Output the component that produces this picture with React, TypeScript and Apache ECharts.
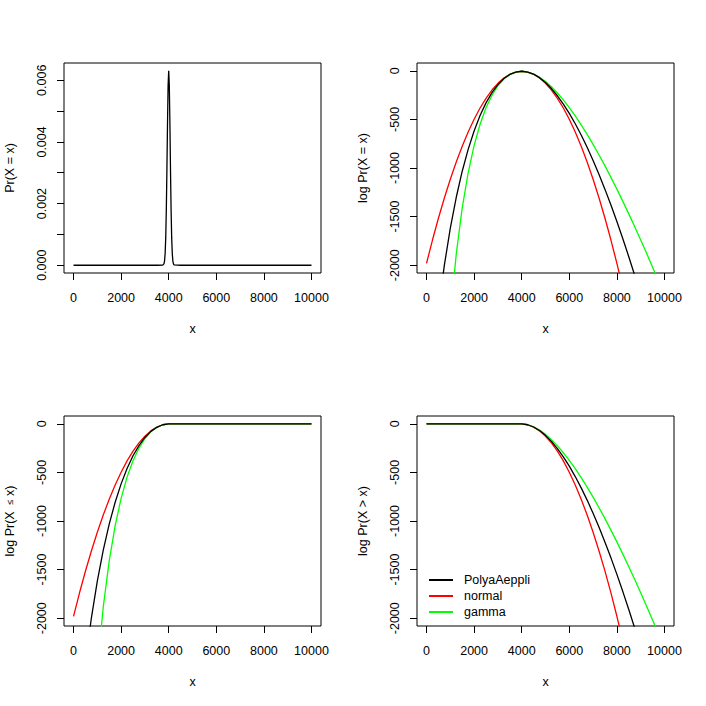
import React, { useEffect, useRef } from "react";
import * as echarts from "echarts";

// x grid for the log panels
const xs = [0, 250, 500, 750, 1000, 1250, 1500, 1750, 2000, 2250, 2500, 2750, 3000, 3250, 3500, 3750, 4000, 4250, 4500, 4750, 5000, 5250, 5500, 5750, 6000, 6250, 6500, 6750, 7000, 7250, 7500, 7750, 8000, 8250, 8500, 8750, 9000, 9250, 9500, 9750, 10000];

// Panel 1: Pr(X = x)
const xsPmf = [0, 1000, 2000, 3000, 3500, 3750, 3775, 3800, 3825, 3850, 3875, 3900, 3925, 3950, 3975, 4000, 4025, 4050, 4075, 4100, 4125, 4150, 4175, 4200, 4225, 4250, 4500, 5000, 6000, 7000, 8000, 9000, 10000];
const pmfPA = [0, 0, 0, 0, 0, 0.0000025, 0.0000113, 0.0000425, 0.000137, 0.000379, 0.000895, 0.001807, 0.003123, 0.004615, 0.005834, 0.006308, 0.005834, 0.004615, 0.003123, 0.001807, 0.000895, 0.000379, 0.000137, 0.0000425, 0.0000113, 0.0000025, 0, 0, 0, 0, 0, 0, 0];

// Panel 2: log Pr(X = x)
const logPmfPA = [-4000, -3061, -2464, -1999, -1618, -1301, -1033, -808, -619, -460, -330, -225, -142, -80, -38, -13, -5, -13, -35, -71, -121, -183, -257, -342, -438, -545, -661, -787, -923, -1067, -1220, -1381, -1551, -1728, -1913, -2105, -2304, -2510, null, null, null];
const logPmfNormal = [-1981, -1741, -1517, -1309, -1116, -939, -777, -630, -499, -383, -283, -198, -129, -75, -36, -13, -5, -13, -36, -75, -129, -198, -283, -383, -499, -630, -777, -939, -1116, -1309, -1517, -1741, -1981, -2235, -2505, null, null, null, null, null, null];
const logPmfGamma = [null, -7254, -4763, -3408, -2519, -1884, -1411, -1049, -768, -550, -381, -251, -154, -85, -39, -13, -5, -13, -34, -67, -111, -165, -229, -300, -379, -464, -556, -654, -757, -866, -978, -1096, -1217, -1343, -1472, -1604, -1740, -1878, -2020, -2164, -2311];

// Panel 3: log Pr(X <= x)
const logCdfPA = [-4000, -3060, -2463, -1998, -1618, -1300, -1032, -807, -618, -459, -329, -224, -141, -78, -36, -10, -0.7, 0, 0, 0, 0, 0, 0, 0, 0, 0, 0, 0, 0, 0, 0, 0, 0, 0, 0, 0, 0, 0, 0, 0, 0];
const logCdfNormal = [-1981, -1741, -1517, -1309, -1116, -939, -776, -629, -498, -382, -282, -197, -128, -73, -34, -10, -0.7, 0, 0, 0, 0, 0, 0, 0, 0, 0, 0, 0, 0, 0, 0, 0, 0, 0, 0, 0, 0, 0, 0, 0, 0];
const logCdfGamma = [null, -7254, -4763, -3408, -2519, -1884, -1410, -1048, -767, -549, -380, -250, -153, -83, -37, -10, -0.7, 0, 0, 0, 0, 0, 0, 0, 0, 0, 0, 0, 0, 0, 0, 0, 0, 0, 0, 0, 0, 0, 0, 0, 0];

// Panel 4: log Pr(X > x)
const logSfPA = [0, 0, 0, 0, 0, 0, 0, 0, 0, 0, 0, 0, 0, 0, 0, 0, -0.7, -10, -33, -69, -119, -181, -255, -340, -436, -543, -659, -785, -921, -1065, -1218, -1379, -1549, -1726, -1911, -2103, -2302, -2508, null, null, null];
const logSfNormal = [0, 0, 0, 0, 0, 0, 0, 0, 0, 0, 0, 0, 0, 0, 0, 0, -0.7, -10, -34, -73, -128, -197, -282, -382, -498, -629, -776, -938, -1115, -1308, -1516, -1740, -1980, -2234, -2504, null, null, null, null, null, null];
const logSfGamma = [0, 0, 0, 0, 0, 0, 0, 0, 0, 0, 0, 0, 0, 0, 0, 0, -0.7, -10, -32, -65, -109, -163, -227, -298, -377, -462, -554, -652, -755, -864, -976, -1094, -1215, -1341, -1470, -1602, -1738, -1876, -2018, -2162, -2309];

const xTicks = [0, 2000, 4000, 6000, 8000, 10000];
const pmfTicks = [0, 0.001, 0.002, 0.003, 0.004, 0.005, 0.006];
const pmfTickLabels = [0, 0.002, 0.004, 0.006];
const logTicks = [-2000, -1500, -1000, -500, 0];

const seriesNames = ["PolyaAeppli", "normal", "gamma"];
const seriesColors = ["#000000", "#FF0000", "#00FF00"];

const FONT = "'Liberation Sans', Arial, Helvetica, sans-serif";

function pairs(xv: number[], yv: (number | null)[]) {
  return xv.map((x, i) => [x, yv[i]]).filter((p) => p[1] !== null);
}

export default function App() {
  const ref = useRef<HTMLDivElement>(null);
  useEffect(() => {
    if (!ref.current) return;
    const chart = echarts.init(ref.current, null, { renderer: "svg" });

    const grids = [
      { left: 64, top: 63, width: 257, height: 210 },
      { left: 417, top: 63, width: 257, height: 210 },
      { left: 64, top: 416, width: 257, height: 210 },
      { left: 417, top: 416, width: 257, height: 210 },
    ].map((g) => ({ ...g, show: true, borderColor: "#000", borderWidth: 1, backgroundColor: "transparent" }));

    const textBase = { color: "#000", fontSize: 12.5, fontFamily: FONT };

    const xAxes = [0, 1, 2, 3].map((i) => ({
      type: "value",
      gridIndex: i,
      position: "bottom",
      min: -400,
      max: 10400,
      axisLine: { show: false, onZero: false },
      splitLine: { show: false },
      axisTick: { show: true, length: 7, lineStyle: { color: "#000", width: 1 }, customValues: xTicks },
      axisLabel: { ...textBase, margin: 18, customValues: xTicks, formatter: (v: number) => String(v) },
      name: "x",
      nameLocation: "middle",
      nameGap: 49,
      nameTextStyle: { ...textBase },
    }));

    const yNames = ["Pr(X = x)", "log Pr(X = x)", "log Pr(X  {s|≤} x)", "log Pr(X > x)"];
    const yAxes = [0, 1, 2, 3].map((i) => {
      const isPmf = i === 0;
      return {
        type: "value",
        gridIndex: i,
        position: "left",
        min: isPmf ? -0.000252 : -2080,
        max: isPmf ? 0.00656 : 80,
        axisLine: { show: false, onZero: false },
        splitLine: { show: false },
        axisTick: { show: true, length: 7, lineStyle: { color: "#000", width: 1 }, customValues: isPmf ? pmfTicks : logTicks },
        axisLabel: {
          ...textBase,
          rotate: 90,
          margin: 16,
          customValues: isPmf ? pmfTickLabels : logTicks,
          formatter: (v: number) => (isPmf ? v.toFixed(3) : String(v)),
        },
        name: yNames[i],
        nameLocation: "middle",
        nameGap: 48,
        nameRotate: 90,
        nameTextStyle: { ...textBase, rich: { s: { fontSize: 9, fontFamily: FONT, color: "#000" } } },
      };
    });

    const lineSeries = (name: string, idx: number, data: any[], z: number) => ({
      type: "line",
      name,
      xAxisIndex: idx,
      yAxisIndex: idx,
      data,
      showSymbol: false,
      symbol: "none",
      color: seriesColors[seriesNames.indexOf(name)],
      lineStyle: { color: seriesColors[seriesNames.indexOf(name)], width: 1.3 },
      clip: true,
      z,
      silent: true,
    });

    const series: any[] = [
      lineSeries("PolyaAeppli", 0, pairs(xsPmf, pmfPA), 3),
      lineSeries("normal", 1, pairs(xs, logPmfNormal), 2),
      lineSeries("gamma", 1, pairs(xs, logPmfGamma), 2),
      lineSeries("PolyaAeppli", 1, pairs(xs, logPmfPA), 3),
      lineSeries("normal", 2, pairs(xs, logCdfNormal), 2),
      lineSeries("gamma", 2, pairs(xs, logCdfGamma), 2),
      lineSeries("PolyaAeppli", 2, pairs(xs, logCdfPA), 3),
      lineSeries("normal", 3, pairs(xs, logSfNormal), 2),
      lineSeries("gamma", 3, pairs(xs, logSfGamma), 2),
      lineSeries("PolyaAeppli", 3, pairs(xs, logSfPA), 3),
    ];

    chart.setOption({
      animation: false,
      backgroundColor: "#fff",
      textStyle: { fontFamily: FONT },
      grid: grids,
      xAxis: xAxes,
      yAxis: yAxes,
      legend: {
        data: seriesNames,
        orient: "vertical",
        left: 429,
        top: 573,
        padding: 0,
        icon: "rect",
        itemWidth: 24,
        itemHeight: 2,
        itemGap: 2,
        selectedMode: false,
        textStyle: { ...textBase, lineHeight: 14, padding: [0, 0, 0, 6] },
      },
      series,
    });
    return () => chart.dispose();
  }, []);

  return <div ref={ref} style={{ position: "fixed", left: 0, top: 0, width: 706, height: 706 }} />;
}
